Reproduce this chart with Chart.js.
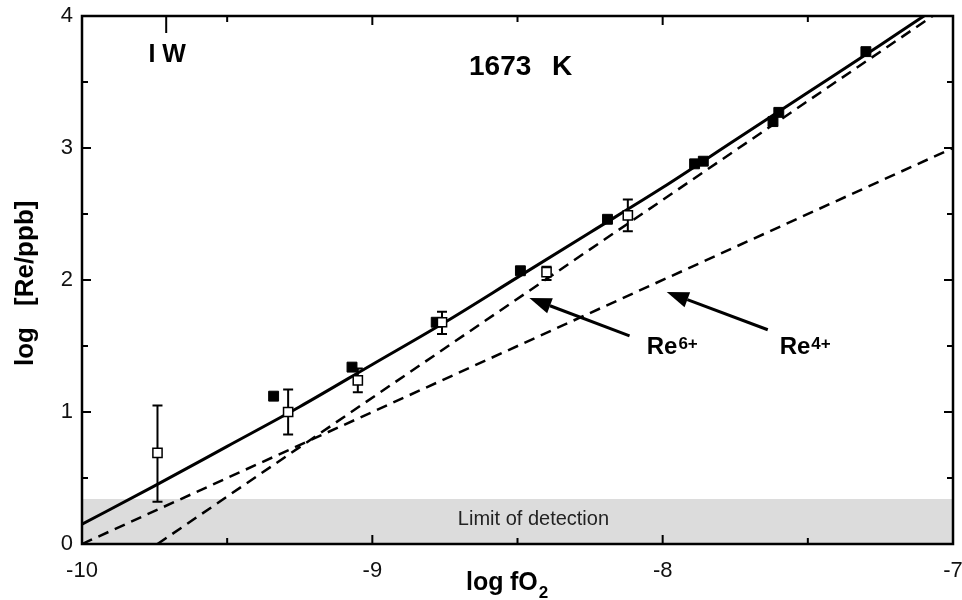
<!DOCTYPE html>
<html>
<head>
<meta charset="utf-8">
<script src="https://cdn.jsdelivr.net/npm/chart.js@4/dist/chart.umd.min.js"></script>
<style>
  body { margin: 0; background: #fff; }
  #reChart { display: block; }
</style>
</head>
<body>
<canvas id="reChart" width="962" height="600"></canvas>
<script>
// measured points: filled squares (no error bars)
const filledX = [-9.34, -9.07, -8.78, -8.49, -8.19, -7.89, -7.86, -7.62, -7.60, -7.30];
const filledY = [1.12, 1.34, 1.68, 2.07, 2.46, 2.88, 2.90, 3.20, 3.27, 3.73];

// open squares with error bars
const openX = [-9.74, -9.29, -9.05, -8.76, -8.40, -8.12];
const openY = [0.69, 1.00, 1.24, 1.68, 2.06, 2.49];
const openLo = [0.32, 0.83, 1.15, 1.59, 2.00, 2.37];
const openHi = [1.05, 1.17, 1.33, 1.76, 2.10, 2.61];

// solid total curve
const totalX = [-10, -9.75, -9.5, -9.25, -9, -8.75, -8.5, -8.25, -8, -7.75, -7.5, -7.25, -7.1, -7];
const totalY = [0.15, 0.44, 0.74, 1.04, 1.36, 1.68, 2.02, 2.36, 2.70, 3.06, 3.42, 3.78, 4.0, 4.14];

// dashed lines, end points
const re4X = [-10, -7];
const re4Y = [0, 3];
const re6X = [-9.74, -7.07];
const re6Y = [0, 4];

// detection limit band
const limitX = [-10, -7];
const limitY = [0.34, 0.34];

const xTicks = [-10, -9, -8, -7];
const yTicks = [0, 1, 2, 3, 4];
const iwX = -9.71;

const FONT = '"Liberation Sans", Arial, Helvetica, sans-serif';

function pts(xs, ys) {
    return xs.map((x, i) => ({ x: x, y: ys[i] }));
}

const data = {
    datasets: [
        {
            label: 'open',
            type: 'scatter',
            data: pts(openX, openY),
            pointStyle: 'rect',
            pointRadius: 6.5,
            backgroundColor: '#fff',
            borderColor: '#000',
            borderWidth: 1.5
        },
        {
            label: 'filled',
            type: 'scatter',
            data: pts(filledX, filledY),
            pointStyle: 'rect',
            pointRadius: 7,
            backgroundColor: '#000',
            borderColor: '#000',
            borderWidth: 1
        },
        {
            label: 'total',
            data: pts(totalX, totalY),
            borderColor: '#000',
            borderWidth: 3,
            pointRadius: 0,
            cubicInterpolationMode: 'monotone'
        },
        {
            label: 'Re4+',
            data: pts(re4X, re4Y),
            borderColor: '#000',
            borderWidth: 2.5,
            borderDash: [11, 7],
            pointRadius: 0
        },
        {
            label: 'Re6+',
            data: pts(re6X, re6Y),
            borderColor: '#000',
            borderWidth: 2.5,
            borderDash: [11, 7],
            pointRadius: 0
        },
        {
            label: 'Limit of detection',
            data: pts(limitX, limitY),
            borderWidth: 0,
            borderColor: 'rgba(0,0,0,0)',
            backgroundColor: '#dcdcdc',
            fill: 'origin',
            pointRadius: 0
        }
    ]
};

const errorBars = {
    id: 'errorBars',
    beforeDatasetDraw(chart, args) {
        if (args.index !== 0) return;
        const ctx = chart.ctx, xs = chart.scales.x, ys = chart.scales.y;
        ctx.save();
        ctx.strokeStyle = '#000';
        ctx.lineWidth = 2;
        openX.forEach((x, i) => {
            const px = xs.getPixelForValue(x);
            const lo = ys.getPixelForValue(openLo[i]);
            const hi = ys.getPixelForValue(openHi[i]);
            ctx.beginPath();
            ctx.moveTo(px, lo); ctx.lineTo(px, hi);
            ctx.moveTo(px - 5, lo); ctx.lineTo(px + 5, lo);
            ctx.moveTo(px - 5, hi); ctx.lineTo(px + 5, hi);
            ctx.stroke();
        });
        ctx.restore();
    }
};

function arrow(ctx, x1, y1, x2, y2) {
    const a = Math.atan2(y2 - y1, x2 - x1);
    const len = 22, half = 8;
    const bx = x2 - len * Math.cos(a), by = y2 - len * Math.sin(a);
    ctx.beginPath();
    ctx.moveTo(x1, y1);
    ctx.lineTo(bx, by);
    ctx.stroke();
    ctx.beginPath();
    ctx.moveTo(x2, y2);
    ctx.lineTo(bx + half * Math.sin(a), by - half * Math.cos(a));
    ctx.lineTo(bx - half * Math.sin(a), by + half * Math.cos(a));
    ctx.closePath();
    ctx.fill();
}

function ionLabel(ctx, x, y, base, sup) {
    ctx.textAlign = 'left';
    ctx.textBaseline = 'alphabetic';
    ctx.font = 'bold 24px ' + FONT;
    ctx.fillText(base, x, y);
    const w = ctx.measureText(base).width;
    ctx.font = 'bold 17px ' + FONT;
    ctx.fillText(sup, x + w + 1, y - 5);
}

const frameAndText = {
    id: 'frameAndText',
    afterDraw(chart) {
        const ctx = chart.ctx, a = chart.chartArea;
        const xs = chart.scales.x, ys = chart.scales.y;
        ctx.save();
        ctx.strokeStyle = '#000';
        ctx.fillStyle = '#000';
        ctx.lineWidth = 2.5;
        ctx.strokeRect(a.left, a.top, a.right - a.left, a.bottom - a.top);

        // inward ticks on all four sides
        ctx.lineWidth = 2;
        for (let v = -10; v <= -6.99; v += 0.5) {
            const px = xs.getPixelForValue(v);
            const major = Math.abs(v - Math.round(v)) < 0.01;
            const l = major ? 9 : 6;
            ctx.beginPath();
            ctx.moveTo(px, a.bottom); ctx.lineTo(px, a.bottom - l);
            ctx.moveTo(px, a.top); ctx.lineTo(px, a.top + l);
            ctx.stroke();
        }
        for (let v = 0; v <= 4; v += 0.5) {
            const py = ys.getPixelForValue(v);
            const major = Math.abs(v - Math.round(v)) < 0.01;
            const l = major ? 9 : 6;
            ctx.beginPath();
            ctx.moveTo(a.left, py); ctx.lineTo(a.left + l, py);
            ctx.moveTo(a.right, py); ctx.lineTo(a.right - l, py);
            ctx.stroke();
        }
        // IW marker
        const iw = xs.getPixelForValue(iwX);
        ctx.beginPath();
        ctx.moveTo(iw, a.top); ctx.lineTo(iw, a.top + 17);
        ctx.stroke();

        ctx.textAlign = 'center';
        ctx.textBaseline = 'alphabetic';
        ctx.font = 'bold 25px ' + FONT;
        ctx.fillText('I W', iw + 1, 62);
        ctx.textAlign = 'left';
        ctx.font = 'bold 28px ' + FONT;
        ctx.fillText('1673', 469, 75);
        ctx.fillText('K', 552, 75);

        ctx.textAlign = 'center';
        ctx.font = '20px ' + FONT;
        ctx.fillStyle = '#222';
        ctx.fillText('Limit of detection', xs.getPixelForValue(-8.445), ys.getPixelForValue(0.143));
        ctx.fillStyle = '#000';

        // arrows and ion labels
        ctx.lineWidth = 3;
        arrow(ctx, xs.getPixelForValue(-8.114), ys.getPixelForValue(1.577),
                   xs.getPixelForValue(-8.459), ys.getPixelForValue(1.864));
        arrow(ctx, xs.getPixelForValue(-7.638), ys.getPixelForValue(1.623),
                   xs.getPixelForValue(-7.986), ys.getPixelForValue(1.909));
        ionLabel(ctx, xs.getPixelForValue(-8.055), ys.getPixelForValue(1.442), 'Re', '6+');
        ionLabel(ctx, xs.getPixelForValue(-7.597), ys.getPixelForValue(1.442), 'Re', '4+');

        // y axis title
        ctx.font = 'bold 26px ' + FONT;
        ctx.textAlign = 'left';
        ctx.save();
        ctx.translate(33, 0);
        ctx.rotate(-Math.PI / 2);
        ctx.fillText('log', -366, 0);
        ctx.fillText('[Re/ppb]', -306, 0);
        ctx.restore();

        // x axis title
        ctx.font = 'bold 25px ' + FONT;
        ctx.fillText('log', 466, 590);
        ctx.fillText('fO', 510, 590);
        const wf = ctx.measureText('fO').width;
        ctx.font = 'bold 17px ' + FONT;
        ctx.fillText('2', 510 + wf + 1, 598);
        ctx.restore();
    }
};

const config = {
    type: 'line',
    data: data,
    options: {
        responsive: false,
        animation: false,
        layout: { padding: { top: 16, right: 9, left: 0, bottom: 0 } },
        plugins: {
            legend: { display: false },
            tooltip: { enabled: false }
        },
        scales: {
            x: {
                type: 'linear',
                min: -10,
                max: -7,
                afterBuildTicks: (s) => { s.ticks = xTicks.map(v => ({ value: v })); },
                afterFit: (s) => { s.height = 56; s.paddingLeft = 0; s.paddingRight = 0; },
                ticks: { color: '#111', font: { family: FONT, size: 22 }, padding: 14 },
                grid: { display: false, drawTicks: false },
                border: { display: false }
            },
            y: {
                min: 0,
                max: 4,
                afterBuildTicks: (s) => { s.ticks = yTicks.map(v => ({ value: v })); },
                afterFit: (s) => { s.width = 82; s.paddingTop = 0; s.paddingBottom = 0; },
                ticks: { color: '#111', font: { family: FONT, size: 22 }, padding: 9 },
                grid: { display: false, drawTicks: false },
                border: { display: false }
            }
        }
    },
    plugins: [errorBars, frameAndText]
};

window.onload = function () {
    const ctx = document.getElementById('reChart').getContext('2d');
    new Chart(ctx, config);
};
</script>
</body>
</html>
